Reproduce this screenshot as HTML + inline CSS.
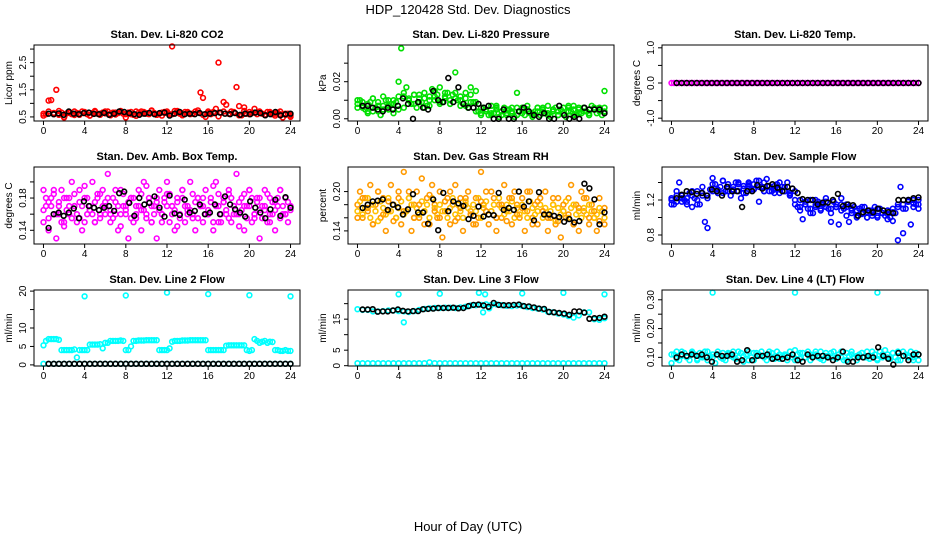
<!DOCTYPE html>
<html><head><meta charset="utf-8"><title>HDP_120428 Std. Dev. Diagnostics</title>
<style>
html,body{margin:0;padding:0;background:#fff;}
svg{display:block;font-family:"Liberation Sans",sans-serif;}
</style></head>
<body>
<svg id="chart" width="936" height="540" viewBox="0 0 936 540">
<text x="468" y="14" font-size="13" text-anchor="middle">HDP_120428  Std. Dev. Diagnostics</text>
<text x="468" y="531" font-size="13" text-anchor="middle">Hour of Day (UTC)</text>
</svg>
<script>
// ---- data ----
const xTicks = [0,4,8,12,16,20,24];
const co2Red = [0.62,0.60,1.10,1.12,0.65,1.50,0.58,0.66,0.48,0.63,0.68,0.60,0.57,0.65,0.62,0.70,0.66,0.60,0.55,0.64,0.68,0.62,0.58,0.66,0.63,0.70,0.61,0.66,0.59,0.64,0.67,0.62,0.48,0.66,0.60,0.58,0.70,0.66,0.62,0.68,0.64,0.60,0.72,0.65,0.58,0.62,0.55,0.68,0.64,0.60,3.10,0.72,0.66,0.62,0.58,0.68,0.64,0.60,0.62,0.70,0.66,1.40,1.20,0.50,0.64,0.60,0.68,0.80,2.50,0.65,1.05,0.95,0.62,0.70,0.66,1.60,0.90,0.56,0.85,0.62,0.68,0.64,0.80,0.60,0.66,0.62,0.58,0.68,0.64,0.60,0.62,0.66,0.60,0.48,0.58,0.62,0.50];
const co2RedB = [0.55,0.7,0.6,0.72,0.5,0.65,0.7,0.58,0.68,0.55,0.72,0.62,0.7,0.56,0.66,0.72,0.6,0.68,0.54,0.7,0.62,0.74,0.58,0.66,0.7,0.6,0.72,0.56,0.68,0.62,0.74,0.58,0.7,0.64,0.52,0.7,0.62,0.68,0.56,0.72,0.6,0.66,0.7,0.58,0.68,0.55,0.7,0.62,0.56];
const co2Black = [0.62,0.6,0.63,0.58,0.7,0.62,0.6,0.64,0.66,0.61,0.6,0.65,0.58,0.62,0.7,0.68,0.64,0.6,0.58,0.62,0.65,0.6,0.64,0.66,0.55,0.62,0.68,0.6,0.62,0.6,0.64,0.6,0.62,0.64,0.66,0.62,0.6,0.64,0.58,0.62,0.6,0.66,0.64,0.56,0.6,0.68,0.56,0.6,0.62];
const presGreenA = [0.008,0.01,0.007,0.005,0.003,0.009,0.011,0.006,0.004,0.002,0.007,0.01,0.005,0.008,0.003,0.009,0.02,0.038,0.012,0.017,0.01,0.008,0.013,0.006,0.011,0.009,0.014,0.007,0.012,0.016,0.01,0.013,0.017,0.009,0.011,0.014,0.008,0.013,0.025,0.01,0.012,0.008,0.014,0.006,0.017,0.009,0.015,0.004,0.002,0.006,0.004,0.002,0.007,0.003,0.005,0.001,0.004,0.006,0.002,0.005,0.003,0.001,0.014,0.004,0.006,0.002,0.005,0.003,0.001,0.004,0.006,0.002,0.005,0.003,0.007,0.001,0.004,0.006,0.002,0.005,0.003,0.001,0.006,0.004,0.007,0.002,0.005,0.003,0.006,0.004,0.002,0.007,0.005,0.003,0.006,0.002,0.015];
const presGreenB = [0.006,0.009,0.004,0.011,0.007,0.005,0.01,0.008,0.012,0.006,0.01,0.013,0.009,0.011,0.007,0.012,0.009,0.014,0.008,0.011,0.01,0.007,0.013,0.009,0.006,0.004,0.003,0.006,0.002,0.005,0.004,0.006,0.003,0.005,0.002,0.006,0.004,0.003,0.005,0.002,0.006,0.004,0.005,0.003,0.006,0.002,0.005,0.004,0.006];
const presGreenC = [0.01,0.006,0.008,0.004,0.009,0.012,0.007,0.01,0.005,0.014,0.011,0.008,0.013,0.006,0.01,0.015,0.008,0.012,0.01,0.014,0.007,0.011,0.009,0.004,0.003,0.005,0.002,0.007,0.004,0.003,0.006,0.002,0.005,0.007,0.003,0.004,0.006,0.002,0.005,0.004,0.003,0.007,0.002,0.006,0.004,0.003,0.006,0.005,0.004];
const presBlack = [0.007,0.007,0.006,0.005,0.004,0.006,0.005,0.007,0.011,0.008,0.0,0.009,0.006,0.005,0.015,0.01,0.009,0.022,0.009,0.017,0.008,0.006,0.006,0.008,0.006,0.007,0.0,0.0,0.005,0.0,0.0,0.004,0.006,0.004,0.002,0.001,0.003,0.0,0.0,0.007,0.002,0.0,0.001,0.0,0.006,0.005,0.005,0.005,0.003];
const tempMagenta = [0,0,0,0,0,0,0,0,0,0,0,0,0,0,0,0,0,0,0,0,0,0,0,0,0,0,0,0,0,0,0,0,0,0,0,0,0,0,0,0,0,0,0,0,0,0,0,0,0,0,0,0,0,0,0,0,0,0,0,0,0,0,0,0,0,0,0,0,0,0,0,0,0,0,0,0,0,0,0,0,0,0,0,0,0,0,0,0,0,0,0,0,0,0,0,0,0];
const tempBlack = [0,0,0,0,0,0,0,0,0,0,0,0,0,0,0,0,0,0,0,0,0,0,0,0,0,0,0,0,0,0,0,0,0,0,0,0,0,0,0,0,0,0,0,0,0,0,0,0,0];
const boxMagA = [0.19,0.17,0.14,0.18,0.16,0.13,0.17,0.19,0.15,0.18,0.16,0.2,0.17,0.15,0.19,0.14,0.18,0.16,0.17,0.2,0.15,0.18,0.16,0.19,0.17,0.21,0.15,0.18,0.16,0.14,0.19,0.17,0.16,0.13,0.18,0.15,0.17,0.19,0.14,0.2,0.16,0.18,0.15,0.17,0.13,0.19,0.16,0.18,0.2,0.15,0.17,0.14,0.18,0.16,0.19,0.15,0.17,0.2,0.16,0.14,0.18,0.17,0.15,0.19,0.16,0.18,0.14,0.2,0.17,0.15,0.18,0.16,0.19,0.15,0.17,0.21,0.16,0.18,0.14,0.17,0.19,0.15,0.16,0.18,0.13,0.17,0.19,0.15,0.18,0.16,0.14,0.17,0.19,0.16,0.18,0.15,0.17];
const boxMagB = [0.165,0.18,0.155,0.17,0.185,0.16,0.175,0.15,0.18,0.165,0.17,0.155,0.185,0.16,0.175,0.17,0.15,0.18,0.165,0.16,0.175,0.185,0.155,0.17,0.16,0.18,0.165,0.155,0.175,0.17,0.16,0.185,0.165,0.175,0.155,0.18,0.16,0.17,0.185,0.165,0.155,0.175,0.17,0.16,0.18,0.165,0.15,0.175,0.17,0.185,0.16,0.165,0.175,0.155,0.18,0.17,0.16,0.165,0.185,0.175,0.155,0.17,0.18,0.16,0.165,0.175,0.15,0.17,0.185,0.16,0.175,0.165,0.155,0.18,0.17,0.16,0.175,0.165,0.185,0.155,0.17,0.18,0.16,0.175,0.165,0.155,0.17,0.185,0.16,0.175,0.165,0.18,0.155,0.17,0.16,0.175,0.165];
const boxMagC = [0.15,0.175,0.19,0.16,0.145,0.18,0.17,0.155,0.195,0.165,0.15,0.185,0.175,0.16,0.19,0.145,0.17,0.18,0.155,0.165,0.195,0.15,0.175,0.16,0.185,0.17,0.145,0.19,0.165,0.155,0.18,0.17,0.16,0.195,0.15,0.175,0.185,0.16,0.145,0.17,0.19,0.155,0.18,0.165,0.15,0.175,0.19,0.16,0.17];
const boxBlack = [0.143,0.16,0.162,0.158,0.162,0.167,0.155,0.176,0.17,0.168,0.165,0.168,0.17,0.164,0.186,0.188,0.174,0.158,0.18,0.172,0.174,0.182,0.168,0.157,0.183,0.161,0.159,0.178,0.162,0.164,0.172,0.16,0.162,0.172,0.16,0.182,0.172,0.166,0.162,0.157,0.176,0.168,0.162,0.155,0.166,0.178,0.158,0.181,0.168];
const rhOrangeA = [0.18,0.2,0.16,0.19,0.17,0.21,0.15,0.18,0.2,0.16,0.19,0.14,0.17,0.21,0.18,0.16,0.2,0.15,0.23,0.17,0.19,0.14,0.18,0.2,0.16,0.22,0.17,0.19,0.15,0.21,0.18,0.16,0.2,0.13,0.17,0.19,0.15,0.18,0.21,0.16,0.19,0.14,0.18,0.2,0.17,0.15,0.19,0.16,0.23,0.18,0.2,0.15,0.17,0.19,0.14,0.18,0.16,0.21,0.17,0.19,0.15,0.2,0.18,0.16,0.19,0.14,0.17,0.2,0.16,0.18,0.15,0.19,0.17,0.2,0.14,0.16,0.18,0.15,0.19,0.13,0.17,0.16,0.19,0.21,0.15,0.18,0.14,0.2,0.17,0.19,0.15,0.18,0.16,0.14,0.19,0.17,0.15];
const rhYellowB = [0.17,0.185,0.165,0.175,0.19,0.16,0.18,0.17,0.155,0.185,0.175,0.165,0.19,0.17,0.18,0.16,0.175,0.185,0.165,0.17,0.19,0.18,0.16,0.175,0.165,0.185,0.17,0.18,0.16,0.19,0.175,0.165,0.18,0.17,0.185,0.16,0.175,0.19,0.165,0.18,0.17,0.16,0.185,0.175,0.165,0.18,0.17,0.19,0.16,0.175,0.185,0.165,0.17,0.18,0.16,0.19,0.175,0.165,0.18,0.17,0.185,0.16,0.175,0.165,0.18,0.17,0.16,0.185,0.175,0.165,0.17,0.18,0.16,0.175,0.165,0.17,0.18,0.155,0.175,0.165,0.17,0.185,0.16,0.175,0.18,0.165,0.17,0.16,0.175,0.165,0.18,0.17,0.16,0.165,0.175,0.17,0.16];
const rhOrangeC = [0.16,0.19,0.175,0.15,0.2,0.165,0.185,0.155,0.19,0.17,0.2,0.16,0.18,0.15,0.195,0.17,0.16,0.185,0.2,0.155,0.175,0.19,0.165,0.15,0.185,0.17,0.2,0.16,0.18,0.155,0.19,0.165,0.175,0.2,0.15,0.185,0.17,0.16,0.19,0.155,0.18,0.165,0.15,0.175,0.19,0.16,0.17,0.155,0.175];
const rhBlack = [0.175,0.18,0.185,0.186,0.188,0.172,0.18,0.176,0.165,0.173,0.196,0.168,0.168,0.151,0.188,0.141,0.198,0.17,0.185,0.182,0.178,0.158,0.163,0.177,0.162,0.165,0.164,0.198,0.172,0.175,0.172,0.2,0.177,0.185,0.156,0.199,0.165,0.165,0.163,0.161,0.154,0.158,0.153,0.155,0.212,0.205,0.188,0.15,0.168];
const flowBlueA = [1.22,1.15,1.3,1.4,1.25,1.2,1.18,1.28,1.12,1.22,1.3,1.15,1.25,0.95,0.88,1.32,1.45,1.38,1.28,1.35,1.42,1.3,1.38,1.25,1.32,1.4,1.3,1.22,1.36,1.28,1.4,1.32,1.38,1.42,1.18,1.35,1.3,1.44,1.36,1.3,1.32,1.38,1.28,1.35,1.3,1.4,1.26,1.33,1.3,1.12,1.2,0.98,1.15,1.1,1.2,1.05,1.12,1.18,1.08,1.15,1.22,1.1,0.95,1.18,1.12,0.92,1.22,1.1,1.15,0.95,1.08,1.12,1.02,1.1,1.05,1.12,1.0,1.08,1.05,1.12,1.0,1.1,1.05,1.02,1.08,1.0,0.96,1.05,0.74,1.35,0.82,1.1,1.18,0.92,1.2,1.15,1.1];
const flowBlueB = [1.2,1.18,1.22,1.15,1.25,1.2,1.28,1.22,1.3,1.32,1.28,1.35,1.3,1.38,1.33,1.36,1.32,1.35,1.4,1.3,1.36,1.32,1.3,1.28,1.15,1.12,1.18,1.1,1.14,1.16,1.12,1.1,1.15,1.08,1.12,1.05,1.08,1.04,1.06,1.08,1.02,1.05,1.04,1.1,1.12,1.15,1.18,1.16,1.2];
const flowBlueC = [1.15,1.25,1.18,1.22,1.3,1.15,1.35,1.25,1.38,1.28,1.42,1.3,1.35,1.4,1.28,1.38,1.32,1.42,1.3,1.36,1.28,1.4,1.35,1.25,1.2,1.08,1.15,1.05,1.2,1.1,1.18,1.05,1.12,1.15,1.02,1.1,1.0,1.12,1.0,1.02,1.1,1.05,0.98,1.06,1.15,1.1,1.2,1.12,1.15];
const flowBlack = [1.22,1.26,1.3,1.29,1.27,1.28,1.25,1.32,1.3,1.25,1.35,1.3,1.3,1.12,1.3,1.3,1.37,1.33,1.36,1.38,1.34,1.3,1.35,1.33,1.28,1.21,1.2,1.2,1.15,1.17,1.17,1.2,1.27,1.13,1.15,1.14,1.02,1.06,1.08,1.06,1.1,1.08,1.06,1.05,1.2,1.2,1.2,1.22,1.23];
const line2Cyan = [5.3,6.5,7,7,7,7,6.8,4,4,4,4,4,4.2,2,4,4,4,4,5.5,5.5,5.5,5.5,5.6,4.5,6,6,6.5,6.5,6.5,6.5,6.6,6.5,4,4,5,6.5,6.5,6.6,6.6,6.6,6.7,6.7,6.7,6.7,6.7,4,4,4,4,4.5,6.3,6.5,6.5,6.5,6.6,6.6,6.6,6.7,6.7,6.7,6.7,6.7,6.7,6.7,4,4,4,4,4,4,4,5.2,5.3,5.3,5.3,5.3,5.3,5.3,5.3,4,3.8,4,7,6.5,6,6.3,6.5,6,6.3,6.2,4,4,3.8,3.8,4,3.8,3.8];
const line2OutHours = [4,8,12,16,20,24];
const line2OutVals = [18.6,18.8,19.6,19.2,18.9,18.6];
const line2Base = [0.3,0.3,0.3,0.3,0.3,0.3,0.3,0.3,0.3,0.3,0.3,0.3,0.3,0.3,0.3,0.3,0.3,0.3,0.3,0.3,0.3,0.3,0.3,0.3,0.3,0.3,0.3,0.3,0.3,0.3,0.3,0.3,0.3,0.3,0.3,0.3,0.3,0.3,0.3,0.3,0.3,0.3,0.3,0.3,0.3,0.3,0.3,0.3,0.3];
const line2Black = [0.3,0.3,0.3,0.3,0.3,0.3,0.3,0.3,0.3,0.3,0.3,0.3,0.3,0.3,0.3,0.3,0.3,0.3,0.3,0.3,0.3,0.3,0.3,0.3,0.3,0.3,0.3,0.3,0.3,0.3,0.3,0.3,0.3,0.3,0.3,0.3,0.3,0.3,0.3,0.3,0.3,0.3,0.3,0.3,0.3,0.3,0.3,0.3];
const line3Cyan = [18.2,18,18,17.5,17.5,17.6,17.8,17.8,17.6,17.5,17.3,17.6,18,18.3,18.5,18.6,18.6,18.7,18.7,18.6,18.8,19,19.4,19.5,19.6,19.8,19.6,19.8,19.5,19.3,19.2,19.4,19.3,18.9,18.6,18.4,18.1,17.4,17.2,16.8,16.5,16,15.5,16.2,17.2,17.2,15,14.8,15.3];
const line3OutHours = [4,4.5,8,11.8,12.2,12.4,12.8,16,20,24];
const line3OutVals = [23,14,23.2,23.5,17.2,23,18.5,23.3,23.5,23];
const line3Base = [0.8,0.8,0.8,0.8,0.8,0.8,0.8,0.8,0.8,0.8,0.8,0.8,0.8,0.8,1.1,0.8,0.8,0.8,0.8,0.8,0.8,0.8,0.8,0.8,0.8,0.8,0.8,0.8,0.8,0.8,0.8,0.8,0.8,0.8,0.8,0.8,0.8,0.8,0.8,0.8,0.8,0.8,0.8,0.8,0.8,0.8,0.8,0.8,0.8];
const line3Black = [18.1,18.1,18.2,17.4,17.5,17.5,17.8,18.1,17.7,17.5,17.6,17.6,18.2,18.3,18.4,18.6,18.6,18.6,18.7,18.5,18.6,19.2,19.6,19.7,19.4,19,20.2,19.6,19.5,19.5,19.6,19.7,19.2,19.1,18.8,18.4,18.3,17.3,17.2,17,16.8,16.4,17.5,17.5,17.1,15.1,15.3,15.4,15.8];
const line4Cyan = [0.08,0.11,0.12,0.09,0.105,0.115,0.1,0.09,0.12,0.11,0.095,0.115,0.1,0.12,0.09,0.105,0.11,0.08,0.12,0.1,0.115,0.09,0.11,0.105,0.12,0.095,0.1,0.115,0.085,0.11,0.12,0.1,0.09,0.115,0.105,0.12,0.1,0.09,0.11,0.115,0.1,0.12,0.095,0.105,0.11,0.09,0.12,0.1,0.125,0.11,0.095,0.115,0.1,0.12,0.09,0.105,0.11,0.1,0.12,0.09,0.115,0.105,0.1,0.12,0.095,0.11,0.1,0.09,0.115,0.105,0.12,0.1,0.09,0.11,0.115,0.1,0.12,0.095,0.105,0.11,0.09,0.12,0.1,0.125,0.11,0.095,0.115,0.1,0.12,0.09,0.105,0.11,0.1,0.12,0.09,0.115,0.09];
const line4CyanB = [0.11,0.095,0.12,0.1,0.115,0.09,0.105,0.12,0.1,0.11,0.095,0.115,0.1,0.12,0.105,0.09,0.115,0.11,0.1,0.12,0.095,0.11,0.105,0.12,0.09,0.115,0.1,0.11,0.12,0.095,0.105,0.115,0.1,0.12,0.09,0.11,0.105,0.115,0.1,0.12,0.095,0.11,0.1,0.115,0.09,0.12,0.105,0.1,0.11];
const line4OutHours = [4,12,20];
const line4OutVals = [0.325,0.325,0.325];
const line4Black = [0.1,0.11,0.105,0.11,0.105,0.11,0.1,0.085,0.11,0.105,0.105,0.11,0.085,0.09,0.125,0.09,0.105,0.105,0.11,0.095,0.1,0.095,0.1,0.11,0.09,0.085,0.11,0.1,0.105,0.105,0.1,0.09,0.1,0.12,0.085,0.085,0.1,0.1,0.105,0.1,0.135,0.105,0.095,0.075,0.115,0.105,0.09,0.11,0.11];

const NS = "http://www.w3.org/2000/svg";
const svg = document.getElementById('chart');
function mk(tag, attrs, parent){
  const e = document.createElementNS(NS, tag);
  for (const k in attrs) e.setAttribute(k, attrs[k]);
  (parent||svg).appendChild(e);
  return e;
}
function dayHours(arr){ return arr.map((v,i)=> i*24/(arr.length-1)); }
function blackHours(arr){ return arr.map((v,i)=> 0.5 + i*23.5/(arr.length-1)); }

const colX = [34,348,662], rowY = [[45,121],[167,244],[290,366]];
const panels = [
 {name:'co2', title:'Stan. Dev. Li-820 CO2', ylab:'Licor ppm', ylim:[0.35,3.15], ticks:[0.5,1,1.5,2,2.5,3], labels:['0.5','','1.5','','2.5',''],
  series:[[co2Red,null,'#ff0000'],[co2RedB,null,'#ff0000'],[co2Black,'b','#000']]},
 {name:'pressure', title:'Stan. Dev. Li-820 Pressure', ylab:'kPa', ylim:[-0.0012,0.0398], ticks:[0,0.01,0.02,0.03], labels:['0.00','','0.02',''],
  series:[[presGreenA,null,'#00e000'],[presGreenB,null,'#00e000'],[presGreenC,null,'#00e000'],[presBlack,'b','#000']]},
 {name:'temp', title:'Stan. Dev. Li-820 Temp.', ylab:'degrees C', ylim:[-1.08,1.08], ticks:[-1,-0.5,0,0.5,1], labels:['-1.0','','0.0','','1.0'],
  series:[[tempMagenta,null,'#ff00ff'],[tempBlack,'b','#000']]},
 {name:'amb-box-temp', title:'Stan. Dev. Amb. Box Temp.', ylab:'degrees C', ylim:[0.123,0.2185], ticks:[0.14,0.16,0.18,0.2], labels:['0.14','','0.18',''],
  series:[[boxMagA,null,'#ff00ff'],[boxMagB,null,'#ff00ff'],[boxMagC,null,'#ff00ff'],[boxBlack,'b','#000']]},
 {name:'gas-stream-rh', title:'Stan. Dev. Gas Stream RH', ylab:'percent', ylim:[0.12,0.2375], ticks:[0.14,0.16,0.18,0.2], labels:['0.14','','','0.20'],
  series:[[rhOrangeA,null,'#ff9a00'],[rhYellowB,null,'#ffc000'],[rhOrangeC,null,'#ff9a00'],[rhBlack,'b','#000']]},
 {name:'sample-flow', title:'Stan. Dev. Sample Flow', ylab:'ml/min', ylim:[0.697,1.577], ticks:[0.8,1,1.2,1.4], labels:['0.8','','1.2',''],
  series:[[flowBlueA,null,'#0000ff'],[flowBlueB,null,'#0000ff'],[flowBlueC,null,'#0000ff'],[flowBlack,'b','#000']]},
 {name:'line2-flow', title:'Stan. Dev. Line 2 Flow', ylab:'ml/min', ylim:[-0.3,20.3], ticks:[0,5,10,15,20], labels:['0','5','10','','20'],
  series:[[line2Cyan,null,'#00ffff'],[line2Base,null,'#00ffff'],[line2OutVals,line2OutHours,'#00ffff'],[line2Black,'b','#000']]},
 {name:'line3-flow', title:'Stan. Dev. Line 3 Flow', ylab:'ml/min', ylim:[-0.1,24.4], ticks:[0,5,10,15,20], labels:['0','5','','15',''],
  series:[[line3Cyan,null,'#00ffff'],[line3Base,null,'#00ffff'],[line3OutVals,line3OutHours,'#00ffff'],[line3Black,'b','#000']]},
 {name:'line4-flow', title:'Stan. Dev. Line 4 (LT) Flow', ylab:'ml/min', ylim:[0.07,0.334], ticks:[0.1,0.15,0.2,0.25,0.3], labels:['0.10','','0.20','','0.30'],
  series:[[line4Cyan,null,'#00ffff'],[line4CyanB,null,'#00ffff'],[line4OutVals,line4OutHours,'#00ffff'],[line4Black,'b','#000']]}
];

panels.forEach((p,idx)=>{
  const L = colX[idx%3], R = L+266, T = rowY[Math.floor(idx/3)][0], B = rowY[Math.floor(idx/3)][1];
  const g = mk('g',{});
  
  
  const xs = h => L + (h + 0.92)/(25.84) * (R-L);
  const ys = v => B - (v - p.ylim[0])/(p.ylim[1]-p.ylim[0]) * (B-T);
  const t = mk('text',{x:(L+R)/2, y:T-7, 'font-size':11, 'font-weight':'bold','text-anchor':'middle'}, g);
  t.textContent = p.title;
  
  
  p.series.forEach(s=>{
    const vals = s[0];
    const hrs = s[1]==='b' ? blackHours(vals) : (s[1] ? s[1] : dayHours(vals));
    const sg = mk('g',{fill:'none', stroke:s[2], 'stroke-width':1.6}, g);
    
    
    vals.forEach((v,i)=>{
      const c = mk('circle',{cx:xs(hrs[i]).toFixed(1), cy:ys(v).toFixed(1), r:2.4}, sg);
      
      
    });
  });
  const box = mk('rect',{x:L, y:T, width:R-L, height:B-T, fill:'none', stroke:'#000','stroke-width':1}, g);
  
  
  const xa = mk('g',{stroke:'#000','stroke-width':1}, g);
  
  
  mk('line',{x1:xs(0), x2:xs(24), y1:B, y2:B}, xa);
  xTicks.forEach(h=>{
    mk('line',{x1:xs(h), x2:xs(h), y1:B, y2:B+4}, xa);
    const tl = mk('text',{x:xs(h), y:B+13, 'font-size':10,'text-anchor':'middle', stroke:'none'}, g);
    tl.textContent = h;
    
    
  });
  const ya = mk('g',{stroke:'#000','stroke-width':1}, g);
  
  
  mk('line',{x1:L, x2:L, y1:ys(p.ticks[0]), y2:ys(p.ticks[p.ticks.length-1])}, ya);
  p.ticks.forEach((v,i)=>{
    mk('line',{x1:L-4, x2:L, y1:ys(v), y2:ys(v)}, ya);
    if (p.labels[i]) {
      const yl = mk('text',{x:0, y:0, 'font-size':10,'text-anchor':'middle', transform:`translate(${L-8},${ys(v)}) rotate(-90)`}, g);
      yl.textContent = p.labels[i];
      
      
    }
  });
  const yt = mk('text',{x:0,y:0,'font-size':10,'text-anchor':'middle', transform:`translate(${L-22},${(T+B)/2}) rotate(-90)`}, g);
  yt.textContent = p.ylab;
  
  
});
</script>
</body></html>
